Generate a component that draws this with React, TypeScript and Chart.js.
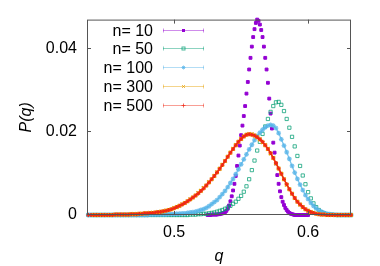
import { useEffect, useRef } from 'react';
import { Chart, registerables } from 'chart.js';

Chart.register(...registerables);

// q grid shared by n=50, 100, 300, 500
const Q = [
  0.436, 0.438, 0.440, 0.442, 0.444, 0.446, 0.448, 0.450, 0.452, 0.454,
  0.456, 0.458, 0.460, 0.462, 0.464, 0.466, 0.468, 0.470, 0.472, 0.474,
  0.476, 0.478, 0.480, 0.482, 0.484, 0.486, 0.488, 0.490, 0.492, 0.494,
  0.496, 0.498, 0.500, 0.502, 0.504, 0.506, 0.508, 0.510, 0.512, 0.514,
  0.516, 0.518, 0.520, 0.522, 0.524, 0.526, 0.528, 0.530, 0.532, 0.534,
  0.536, 0.538, 0.540, 0.542, 0.544, 0.546, 0.548, 0.550, 0.552, 0.554,
  0.556, 0.558, 0.560, 0.562, 0.564, 0.566, 0.568, 0.570, 0.572, 0.574,
  0.576, 0.578, 0.580, 0.582, 0.584, 0.586, 0.588, 0.590, 0.592, 0.594,
  0.596, 0.598, 0.600, 0.602, 0.604, 0.606, 0.608, 0.610, 0.612, 0.614,
  0.616, 0.618, 0.620, 0.622, 0.624, 0.626, 0.628, 0.630, 0.632,
];

// q grid for n=10
const Q10 = [
  0.525, 0.526, 0.527, 0.528, 0.529, 0.530, 0.531, 0.532, 0.533, 0.534,
  0.535, 0.536, 0.537, 0.538, 0.539, 0.540, 0.541, 0.542, 0.543, 0.544,
  0.545, 0.546, 0.547, 0.548, 0.549, 0.550, 0.551, 0.552, 0.553, 0.554,
  0.555, 0.556, 0.557, 0.558, 0.559, 0.560, 0.561, 0.562, 0.563, 0.564,
  0.565, 0.566, 0.567, 0.568, 0.569, 0.570, 0.571, 0.572, 0.573, 0.574,
  0.575, 0.576, 0.577, 0.578, 0.579, 0.580, 0.581, 0.582, 0.583, 0.584,
  0.585, 0.586, 0.587, 0.588, 0.589, 0.590, 0.591, 0.592, 0.593, 0.594,
  0.595, 0.596, 0.597, 0.598, 0.599, 0.600,
];

const P_N10 = [
  0, 0, 0, 0.0001, 0.0001, 0.0001, 0.0001, 0.0001, 0.0002, 0.0002,
  0.0003, 0.0004, 0.0005, 0.0007, 0.0010, 0.0015, 0.0023, 0.0033, 0.0045, 0.0059,
  0.0075, 0.0094, 0.0118, 0.0143, 0.0167, 0.0192, 0.0215, 0.0238, 0.0262, 0.0292,
  0.0320, 0.0350, 0.0378, 0.0405, 0.0428, 0.0447, 0.0462, 0.0470, 0.0467, 0.0458,
  0.0445, 0.0428, 0.0405, 0.0378, 0.0350, 0.0318, 0.0280, 0.0244, 0.0208, 0.0174,
  0.0150, 0.0124, 0.0096, 0.0075, 0.0057, 0.0043, 0.0032, 0.0024, 0.0017, 0.0012,
  0.0008, 0.0005, 0.0003, 0.0002, 0.0001, 0, 0, 0, 0, 0,
  0, 0, 0, 0, 0, 0,
];

const P_N50 = [
  0, 0, 0, 0, 0, 0, 0, 0, 0, 0,
  0, 0, 0, 0, 0, 0, 0, 0, 0, 0,
  0, 0, 0, 0, 0, 0, 0, 0, 0, 0,
  0, 0, 0, 0, 0, 0, 0, 0, 0.0001, 0.0001,
  0.0001, 0.0002, 0.0002, 0.0003, 0.0003, 0.0004, 0.0005, 0.0006, 0.0008, 0.0010,
  0.0012, 0.0015, 0.0018, 0.0022, 0.0027, 0.0032, 0.0039, 0.0046, 0.0056, 0.0069,
  0.0086, 0.0108, 0.0131, 0.0155, 0.0176, 0.0195, 0.0213, 0.0231, 0.0248, 0.0262,
  0.0271, 0.0272, 0.0265, 0.0250, 0.0231, 0.0210, 0.0188, 0.0165, 0.0142, 0.0118,
  0.0095, 0.0074, 0.0055, 0.0040, 0.0028, 0.0019, 0.0012, 0.0007, 0.0004, 0.0002,
  0.0001, 0.0001, 0, 0, 0, 0, 0, 0, 0,
];

const P_N100 = [
  0, 0, 0, 0, 0, 0, 0, 0, 0, 0,
  0, 0, 0, 0, 0, 0, 0, 0, 0, 0,
  0, 0, 0, 0.0001, 0.0001, 0.0001, 0.0001, 0.0001, 0.0001, 0.0001,
  0.0002, 0.0002, 0.0002, 0.0003, 0.0003, 0.0004, 0.0004, 0.0005, 0.0006, 0.0007,
  0.0008, 0.0010, 0.0012, 0.0014, 0.0017, 0.0021, 0.0026, 0.0031, 0.0036, 0.0043,
  0.0050, 0.0058, 0.0067, 0.0077, 0.0087, 0.0098, 0.0110, 0.0122, 0.0134, 0.0146,
  0.0158, 0.0169, 0.0180, 0.0190, 0.0198, 0.0205, 0.0211, 0.0215, 0.0217, 0.0215,
  0.0209, 0.0197, 0.0182, 0.0167, 0.0151, 0.0135, 0.0118, 0.0102, 0.0087, 0.0073,
  0.0060, 0.0048, 0.0038, 0.0029, 0.0022, 0.0016, 0.0011, 0.0008, 0.0005, 0.0003,
  0.0002, 0.0001, 0.0001, 0, 0, 0, 0, 0, 0,
];

const P_N300 = [
  null, null, 0, 0, 0, 0, 0, 0, 0, 0,
  0.0001, 0.0001, 0.0001, 0.0001, 0.0001, 0.0001, 0.0002, 0.0002, 0.0002, 0.0003,
  0.0003, 0.0004, 0.0004, 0.0005, 0.0005, 0.0006, 0.0007, 0.0008, 0.0009, 0.0011,
  0.0012, 0.0014, 0.0017, 0.0019, 0.0022, 0.0026, 0.0029, 0.0033, 0.0038, 0.0042,
  0.0047, 0.0053, 0.0058, 0.0065, 0.0071, 0.0079, 0.0086, 0.0094, 0.0103, 0.0111,
  0.0121, 0.0130, 0.0140, 0.0150, 0.0159, 0.0168, 0.0176, 0.0183, 0.0189, 0.0193,
  0.0195, 0.0194, 0.0191, 0.0187, 0.0182, 0.0175, 0.0168, 0.0159, 0.0148, 0.0137,
  0.0124, 0.0112, 0.0099, 0.0086, 0.0073, 0.0062, 0.0051, 0.0041, 0.0032, 0.0025,
  0.0019, 0.0014, 0.0010, 0.0007, 0.0005, 0.0003, 0.0002, 0.0001, 0.0001, 0,
  0, 0, 0, 0, 0, 0, 0, 0, 0,
];

const P_N500 = [
  0, 0, 0, 0, 0, 0, 0, 0, 0, 0,
  0.0001, 0.0001, 0.0001, 0.0001, 0.0001, 0.0001, 0.0002, 0.0002, 0.0002, 0.0003,
  0.0003, 0.0004, 0.0004, 0.0005, 0.0005, 0.0006, 0.0007, 0.0008, 0.0009, 0.0010,
  0.0012, 0.0014, 0.0016, 0.0019, 0.0022, 0.0025, 0.0029, 0.0033, 0.0037, 0.0042,
  0.0047, 0.0052, 0.0058, 0.0064, 0.0071, 0.0078, 0.0086, 0.0094, 0.0102, 0.0111,
  0.0120, 0.0130, 0.0140, 0.0150, 0.0159, 0.0168, 0.0176, 0.0183, 0.0189, 0.0193,
  0.0194, 0.0193, 0.0191, 0.0187, 0.0182, 0.0176, 0.0168, 0.0159, 0.0149, 0.0137,
  0.0125, 0.0112, 0.0099, 0.0086, 0.0074, 0.0062, 0.0051, 0.0041, 0.0032, 0.0025,
  0.0019, 0.0014, 0.0010, 0.0007, 0.0005, 0.0003, 0.0002, 0.0001, 0.0001, 0,
  0, 0, 0, 0, 0, 0, 0, 0, 0,
];

const SERIES_LABELS = ['n= 10', 'n= 50', 'n= 100', 'n= 300', 'n= 500'];
const SERIES_COLORS = ['#9400d3', '#009e73', '#56b4e9', '#e69f00', '#f02814'];
const SERIES_MARKERS = ['rectFilled', 'rectOpen', 'star', 'crossRot', 'cross'];
const X_TICKS = [0.5, 0.6];
const Y_TICKS = [0, 0.02, 0.04];
const X_MIN = 0.435;
const X_MAX = 0.632;
const Y_MIN = 0;
const Y_MAX = 0.047;

const FONT = "'Liberation Sans', Arial, sans-serif";

function toPoints(xs: number[], ys: (number | null)[]) {
  const out: { x: number; y: number }[] = [];
  for (let i = 0; i < xs.length; i++) {
    const y = ys[i];
    if (y !== null && y !== undefined) out.push({ x: xs[i], y });
  }
  return out;
}

function hexA(hex: string, a: number) {
  const r = parseInt(hex.slice(1, 3), 16);
  const g = parseInt(hex.slice(3, 5), 16);
  const b = parseInt(hex.slice(5, 7), 16);
  return `rgba(${r},${g},${b},${a})`;
}

function drawMarker(ctx: CanvasRenderingContext2D, kind: string, x: number, y: number, color: string) {
  ctx.save();
  ctx.strokeStyle = color;
  ctx.fillStyle = color;
  ctx.lineWidth = 1;
  ctx.beginPath();
  if (kind === 'rectFilled') {
    ctx.fillRect(x - 1.5, y - 1.5, 3, 3);
  } else if (kind === 'rectOpen') {
    ctx.strokeRect(x - 1.5, y - 1.5, 3, 3);
  } else if (kind === 'star') {
    ctx.moveTo(x - 2, y); ctx.lineTo(x + 2, y);
    ctx.moveTo(x, y - 2); ctx.lineTo(x, y + 2);
    ctx.moveTo(x - 1.5, y - 1.5); ctx.lineTo(x + 1.5, y + 1.5);
    ctx.moveTo(x - 1.5, y + 1.5); ctx.lineTo(x + 1.5, y - 1.5);
    ctx.stroke();
  } else if (kind === 'crossRot') {
    ctx.moveTo(x - 1.5, y - 1.5); ctx.lineTo(x + 1.5, y + 1.5);
    ctx.moveTo(x - 1.5, y + 1.5); ctx.lineTo(x + 1.5, y - 1.5);
    ctx.stroke();
  } else {
    ctx.moveTo(x - 2, y); ctx.lineTo(x + 2, y);
    ctx.moveTo(x, y - 2); ctx.lineTo(x, y + 2);
    ctx.stroke();
  }
  ctx.restore();
}

const framePlugin = {
  id: 'frame',
  afterDraw(chart: any) {
    const { ctx, chartArea } = chart;
    const xs = chart.scales.x;
    const ys = chart.scales.y;
    ctx.save();
    ctx.strokeStyle = '#555';
    ctx.lineWidth = 1;
    ctx.strokeRect(chartArea.left + 0.5, chartArea.top + 0.5, chartArea.right - chartArea.left - 1, chartArea.bottom - chartArea.top - 1);
    ctx.beginPath();
    const tl = 4;
    X_TICKS.forEach((v) => {
      const px = Math.round(xs.getPixelForValue(v)) + 0.5;
      ctx.moveTo(px, chartArea.bottom); ctx.lineTo(px, chartArea.bottom - tl);
      ctx.moveTo(px, chartArea.top); ctx.lineTo(px, chartArea.top + tl);
    });
    Y_TICKS.forEach((v) => {
      const py = Math.round(ys.getPixelForValue(v)) - 0.5;
      ctx.moveTo(chartArea.left, py); ctx.lineTo(chartArea.left + tl, py);
      ctx.moveTo(chartArea.right, py); ctx.lineTo(chartArea.right - tl, py);
    });
    ctx.stroke();

    // key
    const textRight = 153;
    const lineX1 = 163;
    const lineX2 = 204;
    const row0 = 29.5;
    const rowStep = 18.8;
    ctx.font = `16px ${FONT}`;
    ctx.textAlign = 'right';
    ctx.textBaseline = 'middle';
    SERIES_LABELS.forEach((label, i) => {
      const y = Math.round(row0 + i * rowStep) + 0.5;
      ctx.fillStyle = '#000';
      ctx.fillText(label, textRight, y + 1);
      const lc = hexA(SERIES_COLORS[i], 0.45);
      ctx.strokeStyle = lc;
      ctx.lineWidth = 1;
      ctx.beginPath();
      ctx.moveTo(lineX1, y); ctx.lineTo(lineX2, y);
      ctx.moveTo(lineX1 + 0.5, y - 2); ctx.lineTo(lineX1 + 0.5, y + 2);
      ctx.moveTo(lineX2 - 0.5, y - 2); ctx.lineTo(lineX2 - 0.5, y + 2);
      ctx.stroke();
      drawMarker(ctx, SERIES_MARKERS[i], (lineX1 + lineX2) / 2, y, hexA(SERIES_COLORS[i], i === 0 ? 1 : 0.7));
    });
    ctx.restore();
  },
};

export default function App() {
  const ref = useRef<HTMLCanvasElement | null>(null);
  useEffect(() => {
    const canvas = ref.current;
    if (!canvas) return;
    const base = {
      showLine: false,
      clip: false,
      borderWidth: 1,
    };
    const chart = new Chart(canvas, {
      type: 'scatter',
      data: {
        datasets: [
          {
            ...base,
            label: SERIES_LABELS[0],
            data: toPoints(Q10, P_N10),
            pointStyle: 'rect',
            pointRadius: 2,
            backgroundColor: SERIES_COLORS[0],
            borderColor: SERIES_COLORS[0],
            order: 4,
          },
          {
            ...base,
            label: SERIES_LABELS[1],
            data: toPoints(Q, P_N50),
            pointStyle: 'rect',
            pointRadius: 2.3,
            backgroundColor: 'rgba(0,0,0,0)',
            borderColor: hexA(SERIES_COLORS[1], 0.75),
            order: 3,
          },
          {
            ...base,
            label: SERIES_LABELS[2],
            data: toPoints(Q, P_N100),
            pointStyle: 'star',
            pointRadius: 2.4,
            showLine: true,
            backgroundColor: hexA(SERIES_COLORS[2], 0.8),
            borderColor: hexA(SERIES_COLORS[2], 0.8),
            borderWidth: 1.3,
            order: 2,
          },
          {
            ...base,
            label: SERIES_LABELS[3],
            data: toPoints(Q, P_N300),
            pointStyle: 'crossRot',
            pointRadius: 2.5,
            showLine: true,
            borderWidth: 1.5,
            backgroundColor: SERIES_COLORS[3],
            borderColor: SERIES_COLORS[3],
            order: 1,
          },
          {
            ...base,
            label: SERIES_LABELS[4],
            data: toPoints(Q, P_N500),
            pointStyle: 'cross',
            pointRadius: 2,
            showLine: true,
            borderWidth: 1.5,
            backgroundColor: SERIES_COLORS[4],
            borderColor: SERIES_COLORS[4],
            order: 0,
          },
        ],
      },
      options: {
        animation: false,
        responsive: false,
        devicePixelRatio: 1,
        layout: { padding: { top: 15, right: 29, left: 0, bottom: 0 } },
        plugins: { legend: { display: false }, tooltip: { enabled: false } },
        scales: {
          x: {
            type: 'linear',
            min: X_MIN,
            max: X_MAX,
            grid: { display: false, drawTicks: false },
            border: { display: false },
            afterBuildTicks: (s: any) => { s.ticks = X_TICKS.map((v) => ({ value: v })); },
            afterFit: (s: any) => { s.height = 51; },
            ticks: {
              padding: 8,
              color: '#000',
              font: { family: FONT, size: 16 },
              maxRotation: 0,
              callback: (v: any) => Number(v).toFixed(1),
            },
            title: {
              display: true,
              text: 'q',
              color: '#000',
              font: { family: FONT, size: 16, style: 'italic' },
              padding: { top: 0, bottom: 0 },
            },
          },
          y: {
            type: 'linear',
            min: Y_MIN,
            max: Y_MAX,
            grid: { display: false, drawTicks: false },
            border: { display: false },
            afterBuildTicks: (s: any) => { s.ticks = Y_TICKS.map((v) => ({ value: v })); },
            afterFit: (s: any) => { s.width = 87; },
            ticks: {
              padding: 10,
              color: '#000',
              font: { family: FONT, size: 16 },
              callback: (v: any) => (Number(v) === 0 ? '0' : Number(v).toFixed(2)),
            },
            title: {
              display: true,
              text: 'P(q)',
              color: '#000',
              font: { family: FONT, size: 16, style: 'italic' },
              padding: { top: 17, bottom: 0 },
            },
          },
        },
      },
      plugins: [framePlugin],
    } as any);
    return () => chart.destroy();
  }, []);
  return (
    <div style={{ position: 'absolute', left: 0, top: 0, width: 380, height: 266, background: '#fff' }}>
      <canvas ref={ref} width={380} height={266} />
    </div>
  );
}
